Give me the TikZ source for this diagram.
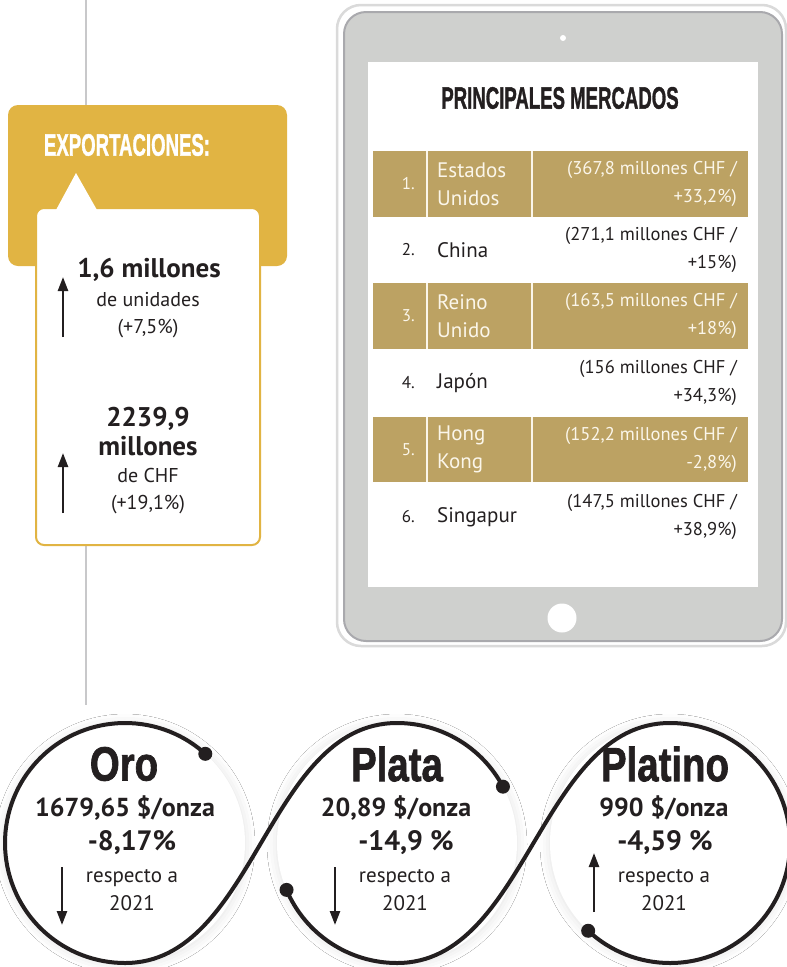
\documentclass[tikz,border=0pt]{standalone}
\usepackage{fontspec}
\setmainfont{PT Sans}
\newfontfamily\headfont[BoldFeatures={FakeBold=1.6}]{Liberation Sans}
\usetikzlibrary{arrows.meta,shadows.blur,calc}
\definecolor{goldbox}{HTML}{E1B443}
\definecolor{goldrow}{HTML}{BCA263}
\definecolor{cream}{HTML}{FBF6EA}
\definecolor{ink}{HTML}{231F20}
\definecolor{vgrey}{HTML}{C8C8CA}
\definecolor{tabgrey}{HTML}{CFD0CE}
\definecolor{tabedge}{HTML}{A9A9AD}
\definecolor{tabframe}{HTML}{DADADA}
\newcommand\fsz[2]{\fontsize{#1}{#2}\selectfont}
\begin{document}
\begin{tikzpicture}[x=1pt,y=-1pt,
  txt/.style={inner sep=0pt, text=ink},
  head/.style={inner sep=0pt, font=\headfont\bfseries\fsz{31}{33}},
  ctitle/.style={inner sep=0pt, text=ink, font=\headfont\bfseries\fsz{48}{50}},
  big/.style={txt, font=\bfseries\fsz{27}{29}, align=center},
  small/.style={txt, font=\fsz{20}{27}, align=center},
  cnum/.style={inner sep=0pt, anchor=east, font=\fsz{17}{28}},
  ccountry/.style={inner sep=0pt, anchor=west, align=left, font=\fsz{21}{28}},
  cval/.style={inner sep=0pt, anchor=east, align=right, font=\fsz{18.5}{28}},
  uparrow/.style={line width=2.4pt, ink, -{Triangle[length=14pt,width=10pt]}},
  metal/.style={line width=4pt, ink, line cap=round},
  enddot/.style={circle, fill=ink, inner sep=0pt, minimum size=14pt},
  disk/.style={fill=white, blur shadow={shadow xshift=0pt, shadow yshift=-1pt, shadow blur radius=10pt, shadow opacity=12}}
]
\useasboundingbox (0,0) rectangle (787,967);
\fill[white] (0,0) rectangle (787,967);

% vertical grey line
\coordinate (vtop) at (86,0);
\coordinate (vbot) at (86,705);
\draw[vgrey, line width=2pt] (vtop) -- (vbot);

% ===== Exportaciones =====
\fill[goldbox, rounded corners=10pt] (8,105) rectangle (287,266);
\node[head, text=white] (exp) at (127,145) {\scalebox{0.6}[1]{EXPORTACIONES:}};
\draw[goldbox, line width=2pt, fill=white, rounded corners=8pt] (36,208) rectangle (260,545);
\fill[white] (56,210) -- (76,173) -- (97,210) -- cycle;

\node[big] (u1) at (149,270) {1,6 millones};
\node[small] (u2) at (148,315.5) {de unidades\\(+7,5\%)};
\coordinate (a1s) at (63,337); \coordinate (a1e) at (63,277);
\draw[uparrow] (a1s) -- (a1e);

\node[big] (c1) at (148,431.5) {2239,9\\millones};
\node[small] (c2) at (148,491.5) {de CHF\\(+19,1\%)};
\coordinate (a2s) at (63,513); \coordinate (a2e) at (63,453);
\draw[uparrow] (a2s) -- (a2e);

% ===== Tablet =====
\draw[tabframe, line width=2.5pt, fill=white, rounded corners=24pt] (337,5) rectangle (786,646);
\draw[tabedge, line width=2pt, fill=tabgrey, rounded corners=22pt] (344,12) rectangle (782,641);
\fill[white] (368,62) rectangle (758,587);
\node[circle, fill=white, inner sep=0pt, minimum size=6pt] (cam) at (563,38) {};
\node[circle, fill=white, inner sep=0pt, minimum size=29pt] (home) at (562,618) {};

\node[head, text=ink] (pm) at (560,98) {\scalebox{0.6}[1]{PRINCIPALES MERCADOS}};

% gold rows
\foreach \ya/\yb in {151/217, 283/349, 417/482}{
  \fill[goldrow] (373,\ya) rectangle (748,\yb);
  \draw[cream, line width=1.5pt] (427,\ya) -- (427,\yb) (532,\ya) -- (532,\yb);
}

% row 1
\node[cnum, text=cream] (n1) at (415,184) {1.};
\node[ccountry, text=cream] (k1) at (437,184) {Estados\\Unidos};
\node[cval, text=cream] (v1) at (737,184) {(367,8 millones CHF /\\+33,2\%)};
% row 2
\node[cnum, text=ink] (n2) at (415,250) {2.};
\node[ccountry, text=ink] (k2) at (437,250) {China};
\node[cval, text=ink] (v2) at (737,250) {(271,1 millones CHF /\\+15\%)};
% row 3
\node[cnum, text=cream] (n3) at (415,316) {3.};
\node[ccountry, text=cream] (k3) at (437,316) {Reino\\Unido};
\node[cval, text=cream] (v3) at (737,316) {(163,5 millones CHF /\\+18\%)};
% row 4
\node[cnum, text=ink] (n4) at (415,383) {4.};
\node[ccountry, text=ink] (k4) at (437,383) {Japón};
\node[cval, text=ink] (v4) at (737,383) {(156 millones CHF /\\+34,3\%)};
% row 5
\node[cnum, text=cream] (n5) at (415,449.5) {5.};
\node[ccountry, text=cream] (k5) at (437,449.5) {Hong\\Kong};
\node[cval, text=cream] (v5) at (737,449.5) {(152,2 millones CHF /\\-2,8\%)};
% row 6
\node[cnum, text=ink] (n6) at (415,517) {6.};
\node[ccountry, text=ink] (k6) at (437,517) {Singapur};
\node[cval, text=ink] (v6) at (737,517) {(147,5 millones CHF /\\+38,9\%)};

% ===== Metals =====
\coordinate (O) at (125,843);
\coordinate (P) at (397,843);
\coordinate (T) at (670,843);
\fill[disk] (O) circle[radius=120];
\fill[disk] (P) circle[radius=120];
\fill[disk] (T) circle[radius=120];

\coordinate (d1) at ($(O)+(-48:120)$);
\coordinate (Ob) at ($(O)+(0,120)$);
\coordinate (Pt) at ($(P)+(0,-120)$);
\coordinate (d2) at ($(P)+(-28:120)$);
\coordinate (d3) at ($(P)+(157:120)$);
\coordinate (Pb) at ($(P)+(0,120)$);
\coordinate (Tt) at ($(T)+(0,-120)$);
\coordinate (d4) at ($(T)+(133:120)$);

\draw[metal] (d1) arc[start angle=-48, end angle=-270, radius=120]
  .. controls ($(Ob)+(130,0)$) and ($(Pt)+(-130,0)$) .. (Pt)
  arc[start angle=-90, end angle=-28, radius=120];
\draw[metal] (d3) arc[start angle=157, end angle=90, radius=120]
  .. controls ($(Pb)+(130,0)$) and ($(Tt)+(-130,0)$) .. (Tt)
  arc[start angle=-90, end angle=133, radius=120];
\node[enddot] (e1) at (d1) {};
\node[enddot] (e2) at (d2) {};
\node[enddot] (e3) at (d3) {};
\node[enddot] (e4) at (d4) {};

% Oro
\node[ctitle] (oro) at (124,764) {\scalebox{0.8}[1]{Oro}};
\node[big, font=\bfseries\fsz{26}{30}] (oro1) at (125,808) {1679,65 \$/onza};
\node[big, font=\bfseries\fsz{28}{30}] (oro2) at (132,843) {-8,17\%};
\node[small, font=\fsz{21}{28}] (oro3) at (132,890) {respecto a\\2021};
\coordinate (ao1) at (62,867); \coordinate (ao2) at (62,925);
\draw[uparrow] (ao1) -- (ao2);

% Plata
\node[ctitle] (plata) at (397,764) {\scalebox{0.8}[1]{Plata}};
\node[big, font=\bfseries\fsz{26}{30}] (pl1) at (396,808) {20,89 \$/onza};
\node[big, font=\bfseries\fsz{28}{30}] (pl2) at (406,843) {-14,9 \%};
\node[small, font=\fsz{21}{28}] (pl3) at (405,890) {respecto a\\2021};
\coordinate (ap1) at (335,867); \coordinate (ap2) at (335,925);
\draw[uparrow] (ap1) -- (ap2);

% Platino
\node[ctitle] (platino) at (665,764) {\scalebox{0.8}[1]{Platino}};
\node[big, font=\bfseries\fsz{26}{30}] (pt1) at (664,808) {990 \$/onza};
\node[big, font=\bfseries\fsz{28}{30}] (pt2) at (665,843) {-4,59 \%};
\node[small, font=\fsz{21}{28}] (pt3) at (664,890) {respecto a\\2021};
\coordinate (at1) at (594,912); \coordinate (at2) at (594,853);
\draw[uparrow] (at1) -- (at2);
\end{tikzpicture}
\end{document}
